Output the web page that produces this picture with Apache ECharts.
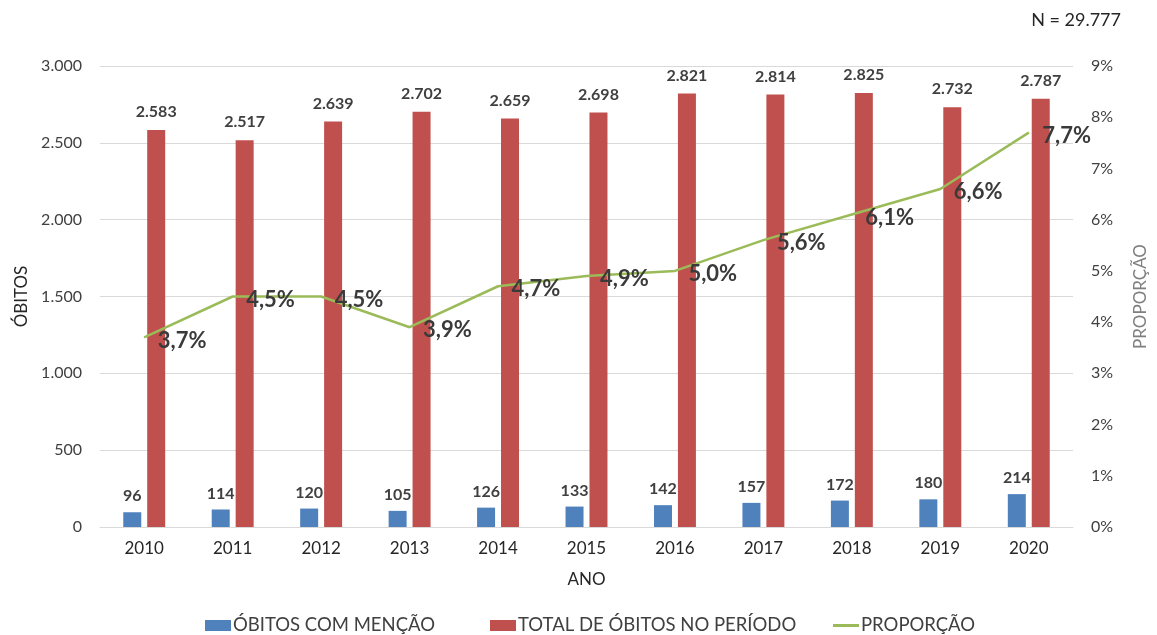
<!DOCTYPE html>
<html>
<head>
<meta charset="utf-8">
<script src="https://cdn.jsdelivr.net/npm/echarts@6/dist/echarts.min.js"></script>
<style>
  html, body { margin: 0; padding: 0; background: #ffffff; }
  #chart { width: 1157px; height: 635px; }
</style>
</head>
<body>
<div id="chart"></div>
<script>
// Óbitos por ano: menções, total no período e proporção (%)
const anos = ['2010', '2011', '2012', '2013', '2014', '2015', '2016', '2017', '2018', '2019', '2020'];
const obitosComMencao = [96, 114, 120, 105, 126, 133, 142, 157, 172, 180, 214];
const totalObitos = [2583, 2517, 2639, 2702, 2659, 2698, 2821, 2814, 2825, 2732, 2787];
const proporcao = [3.7, 4.5, 4.5, 3.9, 4.7, 4.9, 5.0, 5.6, 6.1, 6.6, 7.7];
const obitosTicks = [0, 500, 1000, 1500, 2000, 2500, 3000];
const proporcaoTicks = [0, 1, 2, 3, 4, 5, 6, 7, 8, 9];

const FONT = 'Lato, "Open Sans", sans-serif';
const TXT = '#404040';

function milhar(v) {
  return String(v).replace(/\B(?=(\d{3})+(?!\d))/g, '.');
}

function legendItem(name, icon, left) {
  return {
    left: left,
    top: 611,
    itemWidth: 26,
    itemHeight: 11,
    itemGap: 0,
    textStyle: { fontFamily: FONT, fontSize: 18.5, color: TXT, padding: [0, 0, 0, -3] },
    data: [{ name: name, icon: icon }]
  };
}

const chart = echarts.init(document.getElementById('chart'), null, { renderer: 'canvas' });

chart.setOption({
  animation: false,
  backgroundColor: '#ffffff',
  textStyle: { fontFamily: FONT },
  title: {
    text: 'N = 29.777',
    right: 31,
    top: 6,
    textStyle: { fontFamily: FONT, fontSize: 18, fontWeight: 'normal', color: '#262626' }
  },
  grid: { left: 100, right: 72, top: 66, bottom: 108 },
  legend: [
    legendItem('ÓBITOS COM MENÇÃO', 'rect', 200),
    legendItem('TOTAL DE ÓBITOS NO PERÍODO', 'rect', 485),
    legendItem('PROPORÇÃO', 'path://M0,4 L26,4 L26,7 L0,7 Z', 828)
  ],
  xAxis: {
    type: 'category',
    data: anos,
    name: 'ANO',
    nameLocation: 'middle',
    nameGap: 44,
    nameTextStyle: { fontFamily: FONT, fontSize: 17, color: '#262626' },
    axisLine: { show: true, lineStyle: { color: '#d9d9d9', width: 1 } },
    axisTick: { show: false },
    axisLabel: { fontFamily: FONT, fontSize: 17, color: '#262626', margin: 13 }
  },
  yAxis: [
    {
      type: 'value',
      min: obitosTicks[0],
      max: obitosTicks[obitosTicks.length - 1],
      interval: 500,
      name: 'ÓBITOS',
      nameLocation: 'middle',
      nameRotate: 90,
      nameGap: 68,
      nameTextStyle: { fontFamily: FONT, fontSize: 17, color: '#262626' },
      axisLine: { show: false },
      axisTick: { show: false },
      splitLine: { lineStyle: { color: '#d9d9d9', width: 1 } },
      axisLabel: {
        fontFamily: FONT, fontSize: 16, color: TXT, margin: 18,
        formatter: v => milhar(v)
      }
    },
    {
      type: 'value',
      min: proporcaoTicks[0],
      max: proporcaoTicks[proporcaoTicks.length - 1],
      interval: 1,
      name: 'PROPORÇÃO',
      nameLocation: 'middle',
      nameRotate: 90,
      nameGap: 59,
      nameTextStyle: { fontFamily: FONT, fontSize: 17, color: '#7f7f7f' },
      axisLine: { show: false },
      axisTick: { show: false },
      splitLine: { show: false },
      axisLabel: {
        fontFamily: FONT, fontSize: 16, color: TXT, margin: 18,
        formatter: v => v + '%'
      }
    }
  ],
  series: [
    {
      name: 'ÓBITOS COM MENÇÃO',
      type: 'bar',
      data: obitosComMencao,
      barWidth: 18,
      barGap: '33%',
      itemStyle: { color: '#4f81bd' },
      label: {
        show: true, position: 'top', distance: 8,
        fontFamily: FONT, fontSize: 16, fontWeight: 'bold', color: TXT,
        formatter: p => milhar(p.value)
      }
    },
    {
      name: 'TOTAL DE ÓBITOS NO PERÍODO',
      type: 'bar',
      data: totalObitos,
      barWidth: 18,
      itemStyle: { color: '#c0504d' },
      label: {
        show: true, position: 'top', distance: 10,
        fontFamily: FONT, fontSize: 16, fontWeight: 'bold', color: TXT,
        formatter: p => milhar(p.value)
      }
    },
    {
      name: 'PROPORÇÃO',
      type: 'line',
      yAxisIndex: 1,
      data: proporcao,
      symbol: 'circle',
      symbolSize: 1,
      showSymbol: true,
      lineStyle: { color: '#9bbb59', width: 2.5 },
      itemStyle: { color: '#9bbb59' },
      z: 5,
      label: {
        show: true, position: 'right', distance: 13, offset: [0, 3],
        fontFamily: FONT, fontSize: 22, fontWeight: 'bold', color: '#3a3a3a',
        formatter: p => p.value.toFixed(1).replace('.', ',') + '%'
      }
    }
  ]
});
</script>
</body>
</html>
